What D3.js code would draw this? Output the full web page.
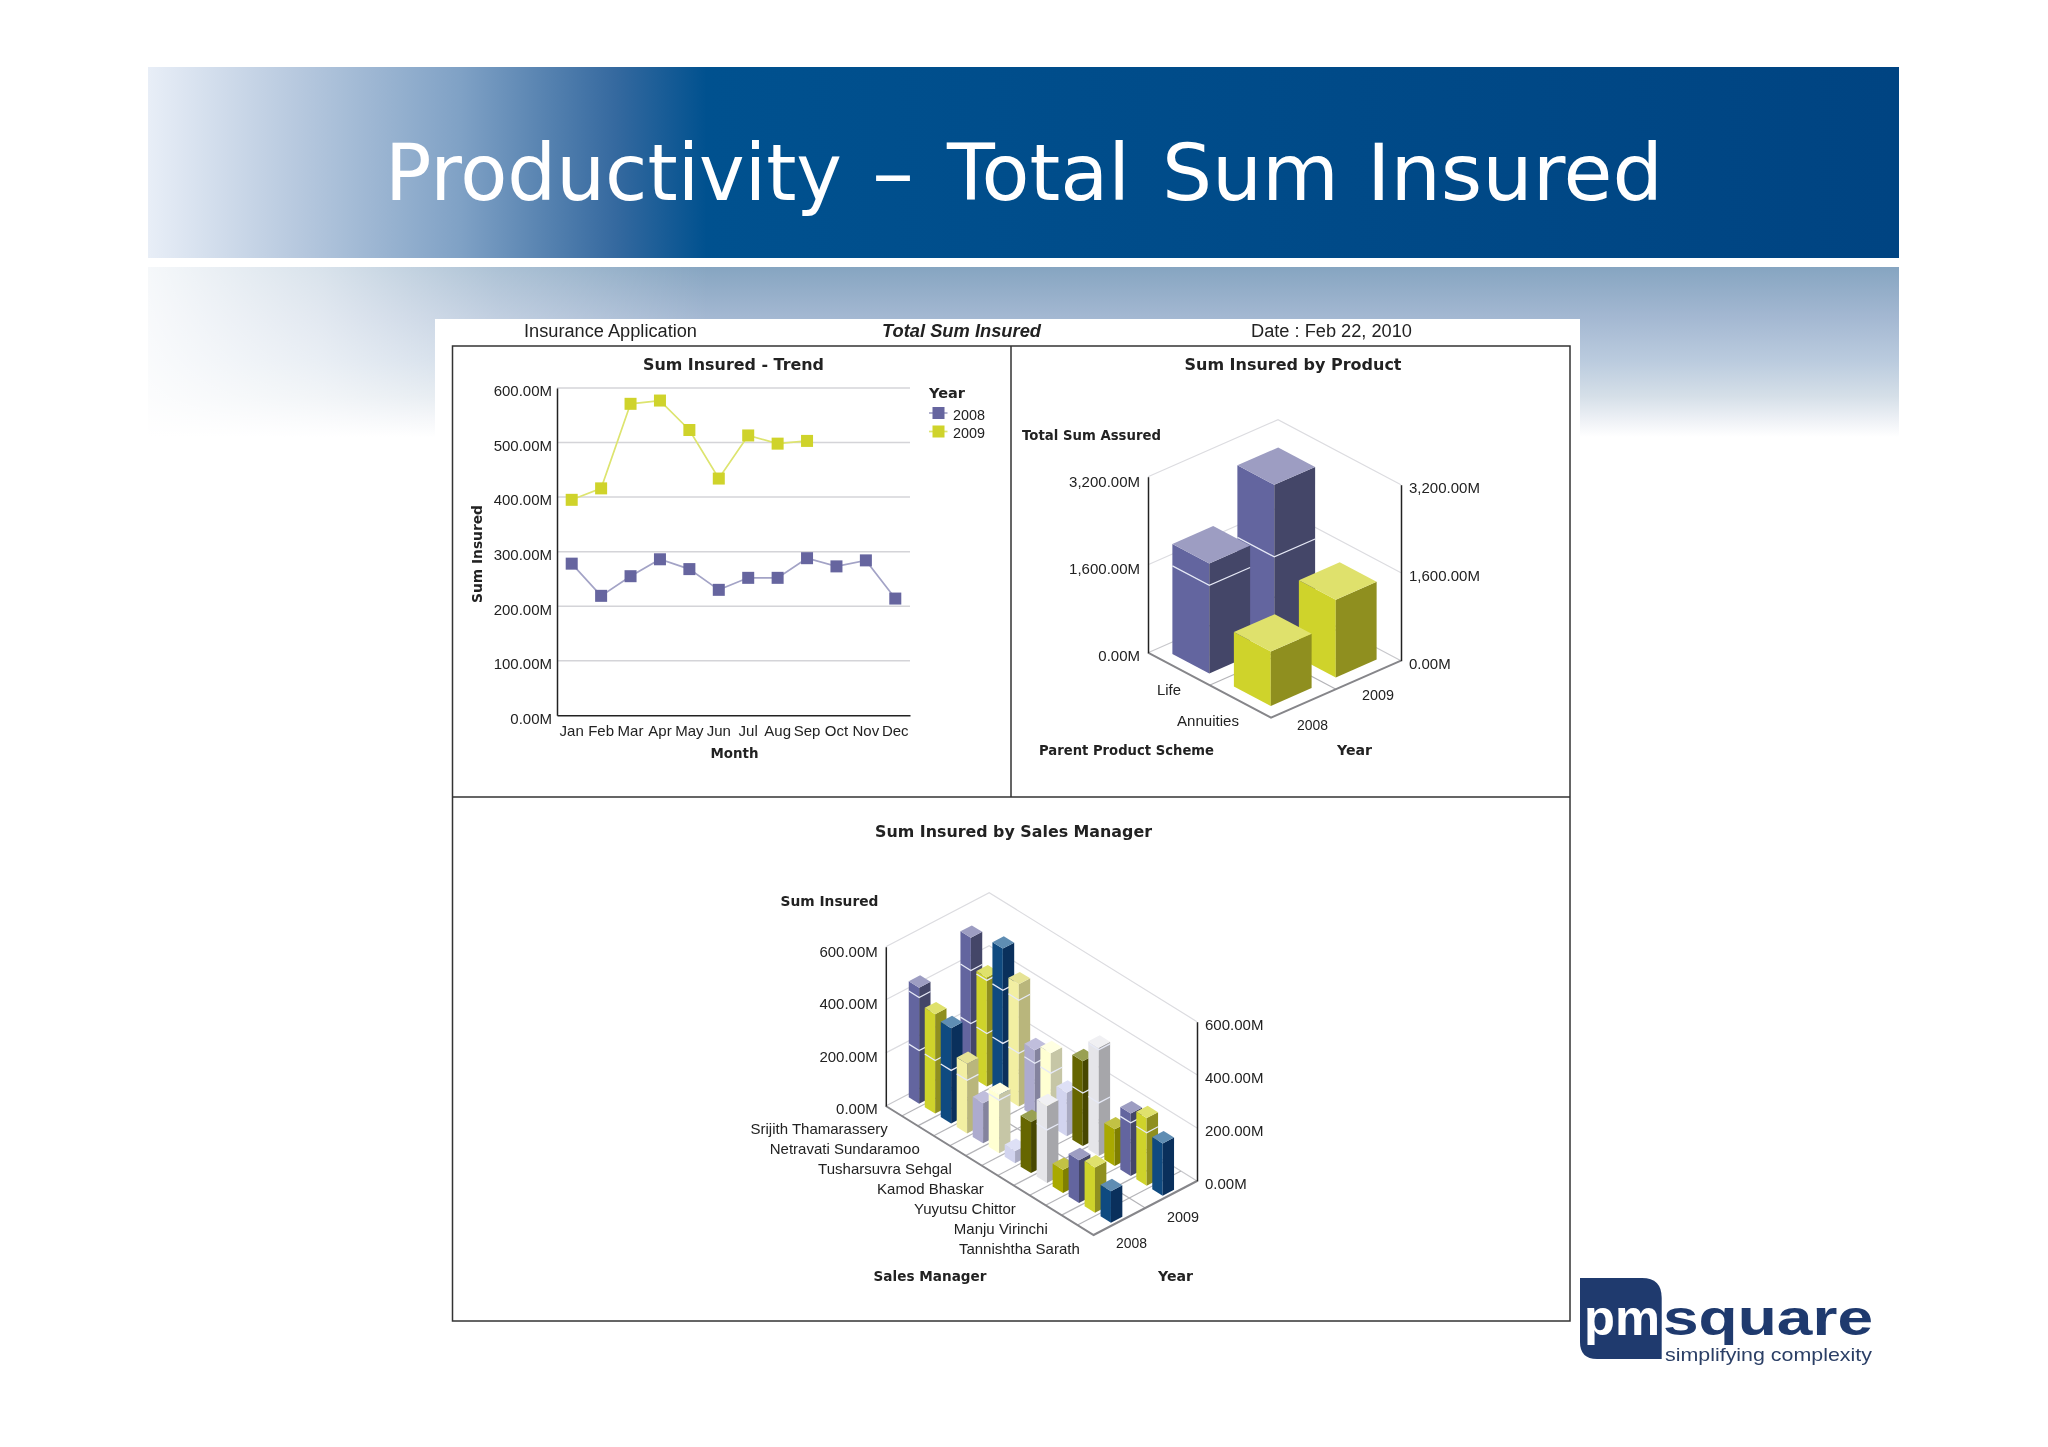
<!DOCTYPE html>
<html>
<head>
    <meta charset="utf-8">
    <style>
        * { padding: 0; margin: 0; }
        body { background: #fff; }
        svg { display: block; font-family: "DejaVu Sans", sans-serif; filter: blur(0.4px); }
    </style>
    <script src="https://d3js.org/d3.v7.min.js"></script>
</head>
<body>
<script>
    /////////////////////////////////////////////////////
    // DATA
    /////////////////////////////////////////////////////

    const months = ["Jan", "Feb", "Mar", "Apr", "May", "Jun", "Jul", "Aug", "Sep", "Oct", "Nov", "Dec"]
    const trend2008 = [278, 219, 255, 286, 268, 230, 252, 252, 288, 273, 284, 214]
    const trend2009 = [395, 416, 571, 577, 523, 434, 513, 498, 503, null, null, null]
    const trendTicks = [0, 100, 200, 300, 400, 500, 600]

    const years = ["2008", "2009"]
    const products = ["Life", "Annuities"]
    const product2008 = [2000, 987]
    const product2009 = [2910, 1413]
    const productTicks = [0, 1600, 3200]

    //only every second manager has a readable label in the picture
    const managers = ["Srijith Thamarassery", "", "Netravati Sundaramoo", "", "Tusharsuvra Sehgal", "", "Kamod Bhaskar",
        "", "Yuyutsu Chittor", "", "Manju Virinchi", "", "Tannishtha Sarath"]
    const manager2008 = [437, 374, 359, 262, 151, 220, 46, 193, 290, 87, 161, 171, 119]
    const manager2009 = [523, 411, 557, 460, 249, 275, 164, 320, 408, 138, 235, 255, 197]
    const managerTicks = [0, 200, 400, 600]

    /////////////////////////////////////////////////////
    // COLOURS
    /////////////////////////////////////////////////////

    const purple = { left: "#63659f", right: "#444668", top: "#9d9dc2" }
    const yellow = { left: "#cfd32b", right: "#8f8f1f", top: "#dfe16c" }
    const blue = { left: "#0f4a80", right: "#0a305c", top: "#5f8db3" }
    const paleYellow = { left: "#f2efa2", right: "#b9b67c", top: "#e6e396" }
    const lavender = { left: "#adabce", right: "#84839e", top: "#c0bedc" }
    const ivory = { left: "#ffffd2", right: "#c6c6a6", top: "#ffffe2" }
    const iceLavender = { left: "#d2d4ef", right: "#a9aac2", top: "#dee0f6" }
    const darkOlive = { left: "#666600", right: "#474700", top: "#99a052" }
    const lightGrey = { left: "#e5e5e9", right: "#a6a6aa", top: "#f0f0f3" }
    const olive = { left: "#a9a900", right: "#7f7f00", top: "#c2c244" }

    const productColors = [purple, yellow]
    const managerColors = [purple, yellow, blue, paleYellow, lavender, ivory, iceLavender, darkOlive, lightGrey, olive, purple, yellow, blue]

    const textColor = "#222"
    const tickFont = '"Liberation Sans", sans-serif'
    const tickSize = 15

    /////////////////////////////////////////////////////
    // SETUP
    /////////////////////////////////////////////////////

    const width = 2048
    const height = 1447

    const svg = d3.select("body").append("svg")
        .attr("width", width)
        .attr("height", height)

    const defs = svg.append("defs")

    function gradient(id, x2, y2, stops) {
        defs.append("linearGradient")
            .attr("id", id)
            .attr("x1", 0).attr("y1", 0).attr("x2", x2).attr("y2", y2)
            .selectAll("stop").data(stops).join("stop")
            .attr("offset", d => d[0])
            .attr("stop-color", d => d[1])
            .attr("stop-opacity", d => d[2] === undefined ? 1 : d[2])
    }

    //Text helper, the width is fitted to what the picture shows
    function label(text, x, y, fit, opts = {}) {
        const t = svg.append("text")
            .attr("x", x)
            .attr("y", y)
            .attr("font-size", opts.size || 14)
            .attr("font-weight", opts.weight || "normal")
            .attr("font-style", opts.style || "normal")
            .attr("font-family", opts.family || null)
            .attr("fill", opts.fill || textColor)
            .text(text)
        if (fit) t.attr("textLength", fit).attr("lengthAdjust", "spacingAndGlyphs")
        if (opts.rotate) t.attr("transform", `rotate(${opts.rotate} ${x} ${y})`)
        return t
    }
    const tickLabel = (text, x, y, fit) => label(text, x, y, fit, { size: tickSize, family: tickFont })

    /////////////////////////////////////////////////////
    // SLIDE BACKGROUND
    /////////////////////////////////////////////////////

    gradient("bannerFill", 1, 0, [
        [0, "#e8eef7"], [0.087, "#b6c8de"], [0.179, "#7fa1c5"], [0.267, "#35699f"], [0.319, "#00518f"], [1, "#004482"]
    ])
    gradient("bandFill", 0, 1, [
        [0, "#86a5c1"], [0.3, "#a4b8d2"], [0.55, "#bacbde"], [0.76, "#d5dfe8"], [0.9, "#eef1f6"], [1, "#ffffff"]
    ])
    gradient("bandFade", 1, 0, [[0, "#fff", 0.92], [0.1, "#fff", 0.68], [0.2, "#fff", 0.32], [0.32, "#fff", 0], [1, "#fff", 0]])

    svg.append("rect").attr("x", 148).attr("y", 67).attr("width", 1751).attr("height", 191).attr("fill", "url(#bannerFill)")
    svg.append("rect").attr("x", 148).attr("y", 267).attr("width", 1751).attr("height", 170).attr("fill", "url(#bandFill)")
    svg.append("rect").attr("x", 148).attr("y", 267).attr("width", 1751).attr("height", 170).attr("fill", "url(#bandFade)")
    svg.append("rect").attr("x", 435).attr("y", 319).attr("width", 1145).attr("height", 1080).attr("fill", "#fff")

    //Slide title, word positions
    const titleWords = [["Productivity", 385, 457], ["–", 872, 42], ["Total", 947, 183], ["Sum", 1162, 177], ["Insured", 1367, 296]]
    svg.append("text").attr("y", 200).attr("font-size", 78).attr("fill", "#fff")
        .selectAll("tspan").data(titleWords).join("tspan")
        .attr("x", d => d[1])
        .attr("textLength", d => d[2])
        .attr("lengthAdjust", "spacingAndGlyphs")
        .text(d => d[0])

    //Report header and the frame of the three panels
    label("Insurance Application", 524, 337, 173, { size: 18, family: "Liberation Sans" })
    label("Total Sum Insured", 882, 337, 159, { size: 18, family: "Liberation Sans", weight: "bold", style: "italic" })
    label("Date : Feb 22, 2010", 1251, 337, 161, { size: 18, family: "Liberation Sans" })

    svg.append("rect").attr("x", 452.5).attr("y", 346).attr("width", 1117.5).attr("height", 975)
        .attr("fill", "none").attr("stroke", "#333").attr("stroke-width", 1.5)
    svg.append("path").attr("d", "M452.5,797H1570M1011,346V797")
        .attr("fill", "none").attr("stroke", "#333").attr("stroke-width", 1.5)

    /////////////////////////////////////////////////////
    // TREND LINE CHART
    /////////////////////////////////////////////////////

    const fmtM = d => d3.format(",.2f")(d) + "M"

    function styleTicks(g) {
        g.selectAll("text").attr("font-size", tickSize).attr("font-family", tickFont).attr("fill", textColor)
    }

    const trendX = d3.scaleBand().domain(months).range([557, 910])
    const trendY = d3.scaleLinear().domain([0, 600]).range([715.3, 388])

    const trend = svg.append("g")

    trend.append("g").selectAll("line").data(trendTicks.slice(1)).join("line")
        .attr("x1", 557).attr("x2", 910)
        .attr("y1", d => trendY(d)).attr("y2", d => trendY(d))
        .attr("stroke", "#d4d4d8").attr("stroke-width", 1.5)

    const trendAxisY = trend.append("g").attr("transform", "translate(557,0)")
        .call(d3.axisLeft(trendY).tickValues(trendTicks).tickFormat(fmtM).tickSize(0).tickPadding(5))
    trendAxisY.select(".domain").attr("stroke", "#222").attr("stroke-width", 1.5)
    trendAxisY.selectAll("text").attr("transform", "translate(0,3)")
    styleTicks(trendAxisY)

    const trendAxisX = trend.append("g").attr("transform", "translate(0,715.3)")
        .call(d3.axisBottom(trendX).tickSize(0).tickPadding(10))
    trendAxisX.select(".domain").attr("stroke", "#222").attr("stroke-width", 1.5)
    styleTicks(trendAxisX)

    const trendLine = d3.line()
        .defined(d => d.value !== null)
        .x(d => trendX(d.month) + trendX.bandwidth() / 2)
        .y(d => trendY(d.value))

    const trendSeries = [
        { name: "2008", values: trend2008, color: "#66659f", line: "#a3a3c6" },
        { name: "2009", values: trend2009, color: "#cfd32b", line: "#dde46f" }
    ]

    trendSeries.forEach((s, i) => {
        const points = months.map((m, j) => ({ month: m, value: s.values[j] }))
        trend.append("path").attr("d", trendLine(points))
            .attr("fill", "none").attr("stroke", s.line).attr("stroke-width", 1.7)
        trend.append("g").selectAll("rect").data(points.filter(d => d.value !== null)).join("rect")
            .attr("x", d => trendX(d.month) + trendX.bandwidth() / 2 - 6)
            .attr("y", d => trendY(d.value) - 6)
            .attr("width", 12).attr("height", 12)
            .attr("fill", s.color)

        //legend
        const legendY = 413 + i * 18.5
        trend.append("line").attr("x1", 929).attr("x2", 947.5).attr("y1", legendY).attr("y2", legendY)
            .attr("stroke", s.line).attr("stroke-width", 1.7)
        trend.append("rect").attr("x", 932.5).attr("y", legendY - 6).attr("width", 12).attr("height", 12).attr("fill", s.color)
        tickLabel(s.name, 953, legendY + 6.5, 32)
    })

    label("Sum Insured - Trend", 643, 370, 181, { size: 15.5, weight: "bold" })
    label("Sum Insured", 482, 603, 98, { size: 14, weight: "bold", rotate: -90 })
    label("Month", 710.5, 757.5, 48, { weight: "bold" })
    label("Year", 929, 398, 36, { weight: "bold" })

    /////////////////////////////////////////////////////
    // 3D BAR CHARTS
    /////////////////////////////////////////////////////

    function bars3d(opts) {
        const g = svg.append("g")

        const maxTick = d3.max(opts.ticks)
        const heightPx = d3.scaleLinear().domain([0, maxTick]).range([0, opts.wallHeight])

        //u runs from the left corner to the front corner, v from the front corner to the right corner
        const uScale = d3.scalePoint().domain(d3.range(opts.categories.length)).range([0, 1]).padding(0.5)
        const vScale = d3.scalePoint().domain(years).range([0, 1]).padding(0.5)

        const project = (u, v, value) => [
            opts.origin[0] + u * opts.uVec[0] + v * opts.vVec[0],
            opts.origin[1] + u * opts.uVec[1] + v * opts.vVec[1] - heightPx(value)
        ]
        const lineGen = d3.line()

        //Walls
        opts.ticks.slice(1).forEach(t => {
            g.append("path").attr("d", lineGen([project(0, 0, t), project(0, 1, t), project(1, 1, t)]))
                .attr("fill", "none").attr("stroke", "#dcdce0").attr("stroke-width", 1.2)
        })

        //Floor
        g.append("path").attr("d", lineGen([project(0, 0, 0), project(0, 1, 0), project(1, 1, 0)]))
            .attr("fill", "none").attr("stroke", "#c8c8cc").attr("stroke-width", 1.2)
        d3.range(1, opts.categories.length).forEach(i => {
            const u = i / opts.categories.length
            g.append("path").attr("d", lineGen([project(u, 0, 0), project(u, 1, 0)]))
                .attr("stroke", "#b4b4b8").attr("stroke-width", 1.2)
        })
        g.append("path").attr("d", lineGen([project(0, 0.5, 0), project(1, 0.5, 0)]))
            .attr("stroke", "#b4b4b8").attr("stroke-width", 1.2)
        g.append("path").attr("d", lineGen([project(0, 0, 0), project(1, 0, 0), project(1, 1, 0)]))
            .attr("fill", "none").attr("stroke", "#86868a").attr("stroke-width", 2)

        //Vertical axes on the left and right corners
        const [leftX, leftY] = project(0, 0, 0)
        const [rightX, rightY] = project(1, 1, 0)
        const leftScale = d3.scaleLinear().domain(heightPx.domain()).range([leftY, leftY - opts.wallHeight])
        const rightScale = d3.scaleLinear().domain(heightPx.domain()).range([rightY, rightY - opts.wallHeight])

        const axisLeft = g.append("g").attr("transform", `translate(${leftX},0)`)
            .call(d3.axisLeft(leftScale).tickValues(opts.ticks).tickFormat(fmtM).tickSize(0).tickPadding(8))
        const axisRight = g.append("g").attr("transform", `translate(${rightX},0)`)
            .call(d3.axisRight(rightScale).tickValues(opts.ticks).tickFormat(fmtM).tickSize(0).tickPadding(8))
        ;[axisLeft, axisRight].forEach(a => {
            a.select(".domain").attr("stroke", "#222").attr("stroke-width", 1.5)
            styleTicks(a)
        })
        axisLeft.selectAll("text").attr("transform", d => `translate(0,${2.5 + 2.5 * d / maxTick})`)
        axisRight.selectAll("text").attr("transform", "translate(0,2.5)")

        //Bars, back row first and from the back to the front inside a row
        const rows = [{ year: "2009", values: opts.back }, { year: "2008", values: opts.front }]
        rows.forEach(row => {
            row.values.forEach((value, i) => {
                const colors = opts.colors[i]
                const u = uScale(i), v = vScale(row.year)
                const L = [u - opts.halfU, v - opts.halfV]
                const F = [u + opts.halfU, v - opts.halfV]
                const R = [u + opts.halfU, v + opts.halfV]
                const B = [u - opts.halfU, v + opts.halfV]
                const face = (a, b) => lineGen([project(a[0], a[1], 0), project(b[0], b[1], 0), project(b[0], b[1], value), project(a[0], a[1], value)]) + "Z"

                const bar = g.append("g")
                bar.append("path").attr("d", face(L, F)).attr("fill", colors.left)
                bar.append("path").attr("d", face(F, R)).attr("fill", colors.right)
                bar.append("path").attr("d", lineGen([L, F, R, B].map(c => project(c[0], c[1], value))) + "Z").attr("fill", colors.top)

                //the wall grid lines show through the bars as white bands
                opts.ticks.slice(1).filter(t => t < value).forEach(t => {
                    bar.append("path").attr("d", lineGen([L, F, R].map(c => project(c[0], c[1], t))))
                        .attr("fill", "none").attr("stroke", "#e6e9f6").attr("stroke-width", 1.3)
                })
            })
        })
    }

    bars3d({
        origin: [1148, 652.7], uVec: [123, 65], vVec: [130, -57], wallHeight: 176,
        categories: products, ticks: productTicks, front: product2008, back: product2009,
        colors: productColors, halfU: 0.15, halfV: 0.157
    })

    label("Sum Insured by Product", 1184.5, 370, 217, { size: 15.5, weight: "bold" })
    label("Total Sum Assured", 1022, 440, 139, { weight: "bold" })
    label("Parent Product Scheme", 1039, 755, 175, { weight: "bold" })
    label("Year", 1337, 755, 35, { weight: "bold" })
    tickLabel("Life", 1157, 694.5, 24)
    tickLabel("Annuities", 1177, 726, 62)
    tickLabel("2008", 1297, 729.5, 31)
    tickLabel("2009", 1362, 699.5, 32)

    bars3d({
        origin: [885.8, 1106], uVec: [207.8, 129], vVec: [103.4, -54], wallHeight: 159.3,
        categories: managers, ticks: managerTicks, front: manager2008, back: manager2009,
        colors: managerColors, halfU: 0.025, halfV: 0.055
    })

    label("Sum Insured by Sales Manager", 875, 837, 277, { size: 15.5, weight: "bold" })
    label("Sum Insured", 780.5, 906, 98, { weight: "bold" })
    label("Sales Manager", 873.5, 1281, 113, { weight: "bold" })
    label("Year", 1158, 1281, 35, { weight: "bold" })
    tickLabel("2008", 1116, 1247.5, 31)
    tickLabel("2009", 1167, 1221.5, 32)

    //Manager labels follow the front left edge of the floor
    managers.forEach((name, i) => {
        if (!name) return
        tickLabel(name, 885.8 + 16 * (i + 0.5) - 6, 1106 + 9.92 * (i + 0.5) + 23.5)
            .attr("text-anchor", "end")
    })

    /////////////////////////////////////////////////////
    // LOGO
    /////////////////////////////////////////////////////

    const navy = "#1f3a6e"
    svg.append("path")
        .attr("d", "M1580,1278H1642Q1661.7,1278 1661.7,1298V1359H1597Q1580,1359 1580,1342Z")
        .attr("fill", navy)
    label("pm", 1584, 1335, 76, { size: 50, family: "Liberation Sans", weight: "bold", fill: "#fff" })
    label("square", 1663, 1335, 210, { size: 50, family: "Liberation Sans", weight: "bold", fill: navy })
    label("simplifying complexity", 1665, 1361, 207, { size: 19, family: "Liberation Sans", fill: "#2b3f66" })
</script>
</body>
</html>
